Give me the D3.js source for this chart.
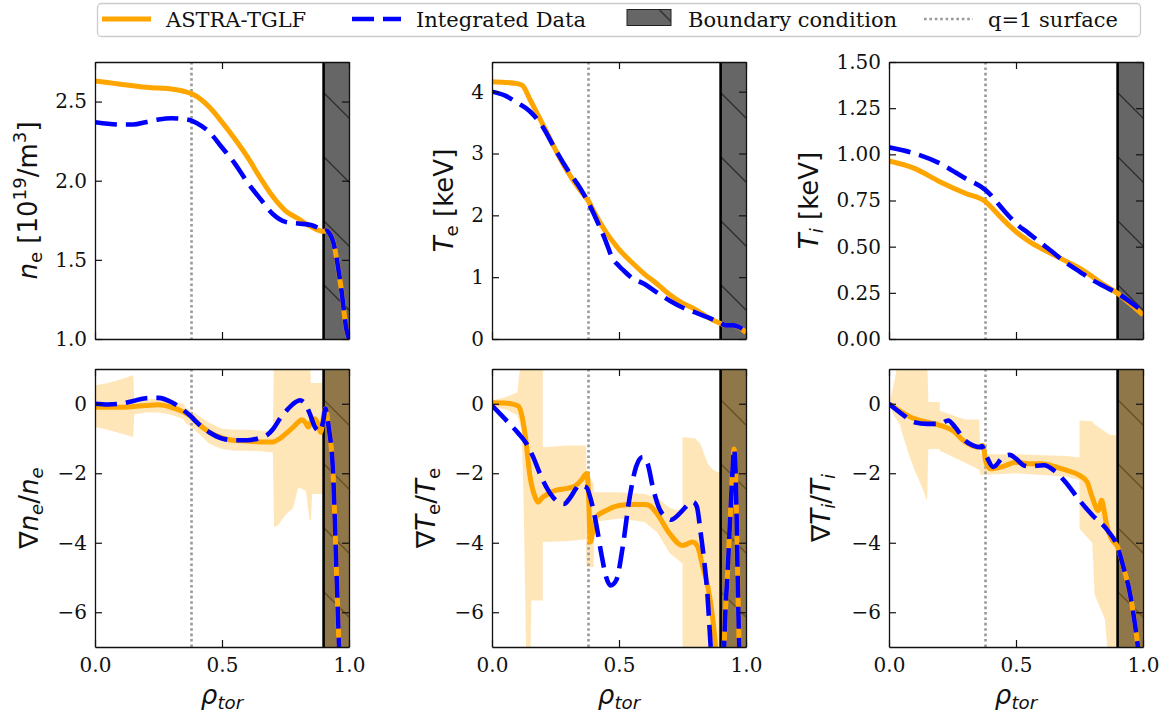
<!DOCTYPE html>
<html>
<head>
<meta charset="utf-8">
<script src="https://cdn.jsdelivr.net/npm/d3@7"></script>
<style>
  body { margin: 0; background: #fff; }
  svg { display: block; }
</style>
</head>
<body>
<script>
// ---- data ----
const rhoQ1 = 0.38;   // q=1 surface
const rhoBC = 0.9;    // boundary condition starts here

// n_e [1e19/m^3]
const neAstraX = [0, 0.05, 0.1, 0.15, 0.2, 0.25, 0.3, 0.35, 0.38, 0.42, 0.45, 0.5, 0.55, 0.6, 0.65, 0.7, 0.75, 0.8, 0.85, 0.9, 0.91, 0.92, 0.94, 0.95, 0.97, 0.99, 1.0];
const neAstra  = [2.63, 2.62, 2.61, 2.60, 2.59, 2.585, 2.58, 2.565, 2.55, 2.51, 2.465, 2.37, 2.265, 2.15, 2.02, 1.90, 1.81, 1.76, 1.71, 1.68, 1.685, 1.675, 1.6, 1.52, 1.31, 1.06, 1.0];
const neDataX  = [0, 0.05, 0.1, 0.15, 0.2, 0.25, 0.3, 0.35, 0.38, 0.4, 0.45, 0.5, 0.55, 0.6, 0.65, 0.7, 0.75, 0.8, 0.85, 0.88, 0.9, 0.91, 0.92, 0.94, 0.95, 0.97, 0.99, 1.0];
const neData   = [2.37, 2.36, 2.355, 2.355, 2.37, 2.387, 2.395, 2.39, 2.38, 2.364, 2.307, 2.21, 2.11, 1.99, 1.887, 1.79, 1.74, 1.73, 1.72, 1.70, 1.68, 1.685, 1.675, 1.6, 1.52, 1.31, 1.06, 1.0];

// T_e [keV]
const teAstraX = [0, 0.05, 0.1, 0.12, 0.15, 0.2, 0.25, 0.3, 0.35, 0.38, 0.4, 0.45, 0.5, 0.55, 0.6, 0.65, 0.7, 0.75, 0.8, 0.85, 0.9, 0.92, 0.95, 0.97, 1.0];
const teAstra  = [4.16, 4.15, 4.13, 4.10, 3.87, 3.47, 3.06, 2.69, 2.39, 2.23, 2.07, 1.72, 1.45, 1.24, 1.05, 0.89, 0.715, 0.58, 0.48, 0.35, 0.25, 0.22, 0.22, 0.2, 0.1];
const teDataX  = [0, 0.05, 0.1, 0.15, 0.2, 0.25, 0.3, 0.35, 0.38, 0.42, 0.45, 0.47, 0.5, 0.52, 0.55, 0.6, 0.65, 0.7, 0.75, 0.8, 0.85, 0.9, 0.92, 0.95, 0.97, 1.0];
const teData   = [4.0, 3.94, 3.82, 3.68, 3.43, 3.06, 2.72, 2.42, 2.2, 1.85, 1.56, 1.34, 1.18, 1.1, 0.99, 0.89, 0.75, 0.62, 0.51, 0.43, 0.35, 0.26, 0.22, 0.22, 0.2, 0.12];

// T_i [keV]
const tiAstraX = [0, 0.1, 0.2, 0.3, 0.38, 0.4, 0.45, 0.5, 0.55, 0.6, 0.65, 0.7, 0.75, 0.8, 0.85, 0.9, 0.95, 1.0];
const tiAstra  = [0.964, 0.924, 0.852, 0.789, 0.744, 0.717, 0.645, 0.581, 0.53, 0.49, 0.455, 0.419, 0.383, 0.338, 0.29, 0.247, 0.19, 0.13];
const tiDataX  = [0, 0.1, 0.2, 0.3, 0.38, 0.4, 0.45, 0.5, 0.55, 0.6, 0.65, 0.7, 0.75, 0.8, 0.85, 0.9, 0.95, 1.0];
const tiData   = [1.038, 1.005, 0.951, 0.87, 0.807, 0.78, 0.70, 0.626, 0.572, 0.518, 0.464, 0.41, 0.365, 0.32, 0.283, 0.247, 0.20, 0.15];

// grad n_e / n_e
const gneAstraX = [0, 0.1, 0.2, 0.25, 0.3, 0.35, 0.38, 0.4, 0.45, 0.5, 0.55, 0.6, 0.65, 0.7, 0.728, 0.755, 0.781, 0.8, 0.814, 0.827, 0.84, 0.853, 0.866, 0.879, 0.888, 0.907, 0.92, 0.938, 0.945, 0.951, 0.958, 0.965];
const gneAstra  = [-0.1, -0.1, -0.05, -0.03, -0.1, -0.24, -0.38, -0.53, -0.82, -0.98, -1.06, -1.07, -1.1, -1.1, -1.0, -0.84, -0.67, -0.53, -0.46, -0.53, -0.67, -0.48, -0.43, -0.62, -0.82, -0.14, -0.67, -2.1, -3.55, -4.9, -6.4, -8];
const gneDataX  = [0, 0.05, 0.1, 0.15, 0.2, 0.25, 0.3, 0.35, 0.38, 0.4, 0.45, 0.5, 0.55, 0.6, 0.65, 0.676, 0.702, 0.728, 0.755, 0.781, 0.807, 0.827, 0.846, 0.866, 0.886, 0.899, 0.907, 0.92, 0.938, 0.945, 0.951, 0.958, 0.965];
const gneData   = [0, -0.02, 0, 0.08, 0.16, 0.17, 0.05, -0.19, -0.38, -0.53, -0.82, -1.0, -1.05, -1.05, -0.98, -0.91, -0.72, -0.43, -0.19, 0.0, 0.1, 0.0, -0.29, -0.67, -0.79, -0.48, -0.14, -0.67, -2.1, -3.55, -4.9, -6.4, -8];
const gneBandX  = [0, 0.05, 0.1, 0.15, 0.155, 0.2, 0.25, 0.3, 0.35, 0.355, 0.4, 0.45, 0.5, 0.55, 0.6, 0.65, 0.7, 0.705, 0.72, 0.75, 0.78, 0.8, 0.83, 0.845, 0.85, 0.855, 0.88, 0.9, 0.9, 1.0];
const gneBandLo = [-0.67, -0.75, -0.85, -0.96, -0.3, -0.25, -0.25, -0.32, -0.45, -0.55, -0.8, -1.15, -1.3, -1.35, -1.35, -1.37, -1.4, -3.55, -3.5, -3.2, -3.0, -2.4, -2.5, -3.35, -3.35, -2.6, -2.6, -2.6, -8, -8];
const gneBandHi = [0.53, 0.6, 0.7, 0.82, 0.1, 0.12, 0.15, 0.05, 0.0, -0.1, -0.3, -0.55, -0.72, -0.75, -0.75, -0.77, -0.8, 1.5, 1.5, 1.5, 1.5, 1.5, 1.5, 1.5, 0.6, 0.6, 0.6, 0.6, 1.5, 1.5];

// grad T_e / T_e
const gteAstraX = [0, 0.05, 0.1, 0.11, 0.13, 0.15, 0.17, 0.18, 0.2, 0.25, 0.3, 0.33, 0.35, 0.374, 0.38, 0.387, 0.4, 0.41, 0.45, 0.5, 0.55, 0.6, 0.62, 0.65, 0.7, 0.75, 0.79, 0.81, 0.83, 0.85, 0.87, 0.885, 0.9, 0.905, 0.914, 0.93, 0.945, 0.953, 0.96, 0.966, 0.973, 0.985];
const gteAstra  = [0.03, 0.02, -0.05, -0.14, -0.86, -2.11, -2.69, -2.83, -2.69, -2.49, -2.43, -2.35, -2.21, -2.01, -2.6, -3.98, -3.55, -3.26, -3.07, -2.93, -2.9, -2.9, -2.93, -3.17, -3.74, -4.08, -3.98, -4.12, -4.7, -5.27, -6.24, -7.5, -10, -10, -7, -4.5, -2.2, -1.3, -2.2, -4.5, -7, -10];
const gteDataX  = [0, 0.05, 0.1, 0.136, 0.162, 0.188, 0.214, 0.24, 0.267, 0.286, 0.3, 0.33, 0.34, 0.371, 0.39, 0.41, 0.43, 0.45, 0.467, 0.489, 0.515, 0.54, 0.567, 0.593, 0.613, 0.633, 0.659, 0.685, 0.705, 0.724, 0.75, 0.776, 0.792, 0.806, 0.822, 0.835, 0.848, 0.861, 0.88, 0.9, 0.905, 0.914, 0.93, 0.945, 0.953, 0.96, 0.966, 0.973, 0.985];
const gteData   = [-0.05, -0.43, -0.82, -1.15, -1.53, -2.0, -2.4, -2.69, -2.85, -2.88, -2.78, -2.45, -2.35, -2.4, -2.78, -3.45, -4.3, -5.0, -5.23, -5.08, -4.1, -2.78, -1.82, -1.53, -1.73, -2.4, -3.02, -3.26, -3.34, -3.26, -3.07, -2.88, -2.83, -2.95, -3.74, -4.5, -5.47, -7, -9, -10, -10, -7, -4.5, -2.2, -1.3, -2.2, -4.5, -7, -10];
const gteBandX  = [0, 0.05, 0.1, 0.117, 0.125, 0.136, 0.15, 0.155, 0.2, 0.2, 0.3, 0.37, 0.372, 0.4, 0.402, 0.45, 0.5, 0.6, 0.65, 0.7, 0.75, 0.75, 0.8, 0.82, 0.85, 0.87, 0.9, 0.9, 1.0];
const gteBandLo = [-0.1, -0.15, -0.33, -0.8, -3, -8, -8, -5.66, -5.66, -3.98, -3.95, -3.9, -4.7, -4.7, -3.4, -3.35, -3.3, -3.4, -3.7, -4.3, -4.6, -8, -8, -8, -8, -8, -8, -8, -8];
const gteBandHi = [0.1, 0.18, 0.33, 1.5, 1.5, 1.5, 1.5, 1.5, 1.5, -1.25, -1.2, -1.2, -1.9, -2.3, -2.55, -2.55, -2.55, -2.6, -2.7, -3.0, -3.1, -0.96, -1.0, -1.15, -1.73, -1.9, -2.0, 1.5, 1.5];

// grad T_i / T_i
const gtiAstraX = [0, 0.05, 0.1, 0.15, 0.2, 0.25, 0.3, 0.35, 0.37, 0.38, 0.39, 0.4, 0.45, 0.5, 0.55, 0.6, 0.65, 0.7, 0.75, 0.78, 0.8, 0.824, 0.837, 0.845, 0.857, 0.877, 0.9, 0.923, 0.949, 0.968, 0.98, 1.0];
const gtiAstra  = [0, -0.24, -0.43, -0.53, -0.62, -0.77, -1.1, -1.25, -1.2, -1.63, -1.82, -1.87, -1.8, -1.68, -1.73, -1.73, -1.8, -1.92, -2.06, -2.25, -2.69, -3.07, -2.78, -3.0, -3.5, -3.9, -4.12, -4.7, -5.47, -6.33, -7, -8.5];
const gtiDataX  = [0, 0.05, 0.1, 0.15, 0.2, 0.233, 0.26, 0.3, 0.33, 0.36, 0.365, 0.385, 0.41, 0.45, 0.475, 0.5, 0.53, 0.55, 0.61, 0.65, 0.7, 0.75, 0.8, 0.86, 0.9, 0.923, 0.949, 0.968, 0.98, 1.0];
const gtiData   = [0, -0.29, -0.53, -0.58, -0.58, -0.48, -0.67, -1.06, -1.2, -1.25, -1.22, -1.53, -1.82, -1.53, -1.47, -1.58, -1.77, -1.8, -1.77, -1.92, -2.3, -2.78, -3.2, -3.64, -4.12, -4.7, -5.47, -6.33, -7, -8.5];
const gtiBandX  = [0, 0.02, 0.043, 0.05, 0.08, 0.1, 0.13, 0.15, 0.155, 0.2, 0.2, 0.3, 0.355, 0.36, 0.5, 0.7, 0.75, 0.75, 0.8, 0.81, 0.85, 0.87, 0.9, 0.9, 1.0];
const gtiBandLo = [0, -0.35, -0.6, -0.8, -1.5, -1.9, -2.4, -2.8, -1.3, -1.3, -1.35, -1.7, -1.9, -2.05, -2.0, -2.1, -2.2, -3.6, -4.0, -5.5, -6.2, -8, -8, -8, -8];
const gtiBandHi = [0, 0.6, 1.5, 1.5, 1.5, 1.5, 1.5, 1.5, 0.05, 0.05, -0.2, -0.45, -0.45, -1.45, -1.45, -1.5, -1.55, -0.48, -0.5, -0.6, -0.8, -0.9, -0.9, 1.5, 1.5];

const xTicks = [0, 0.5, 1.0];

// ---- layout ----
const W = 1169, H = 718;
const colLeft = [95, 492, 889], colW = 254;
const rowTop = [62, 369], rowH = [277, 278];
const orange = "#ffa500", blue = "#0000ff";
const labelSize = 26;

const panels = [
  { col: 0, row: 0, ylim: [1, 2.75], ticks: [1, 1.5, 2, 2.5], fmt: ".1f", labelOff: 58,
    label: [{t: "n", it: 1}, {t: "e", sub: 1}, {t: " [10"}, {t: "19", sup: 1}, {t: "/m"}, {t: "3", sup: 1}, {t: "]"}],
    astra: [neAstraX, neAstra], data: [neDataX, neData] },
  { col: 1, row: 0, ylim: [0, 4.48], ticks: [0, 1, 2, 3, 4], fmt: "d", labelOff: 39,
    label: [{t: "T", it: 1}, {t: "e", sub: 1}, {t: " [keV]"}],
    astra: [teAstraX, teAstra], data: [teDataX, teData] },
  { col: 2, row: 0, ylim: [0, 1.5], ticks: [0, 0.25, 0.5, 0.75, 1, 1.25, 1.5], fmt: ".2f", labelOff: 71,
    label: [{t: "T", it: 1}, {t: "i", sub: 1, it: 1}, {t: " [keV]"}],
    astra: [tiAstraX, tiAstra], data: [tiDataX, tiData] },
  { col: 0, row: 1, ylim: [-7, 1], ticks: [0, -2, -4, -6], fmt: "d", labelOff: 57,
    label: [{t: "∇"}, {t: "n", it: 1}, {t: "e", sub: 1, it: 1}, {t: "/"}, {t: "n", it: 1}, {t: "e", sub: 1, it: 1}],
    astra: [gneAstraX, gneAstra], data: [gneDataX, gneData], band: [gneBandX, gneBandLo, gneBandHi] },
  { col: 1, row: 1, ylim: [-7, 1], ticks: [0, -2, -4, -6], fmt: "d", labelOff: 57,
    label: [{t: "∇"}, {t: "T", it: 1}, {t: "e", sub: 1}, {t: "/"}, {t: "T", it: 1}, {t: "e", sub: 1}],
    astra: [gteAstraX, gteAstra], data: [gteDataX, gteData], band: [gteBandX, gteBandLo, gteBandHi] },
  { col: 2, row: 1, ylim: [-7, 1], ticks: [0, -2, -4, -6], fmt: "d", labelOff: 59,
    label: [{t: "∇"}, {t: "T", it: 1}, {t: "i", sub: 1, it: 1}, {t: "/"}, {t: "T", it: 1}, {t: "i", sub: 1, it: 1}],
    astra: [gtiAstraX, gtiAstra], data: [gtiDataX, gtiData], band: [gtiBandX, gtiBandLo, gtiBandHi] }
];

const svg = d3.select("body").append("svg").attr("width", W).attr("height", H);
const defs = svg.append("defs");

// hatch for the boundary region ('\\' in matplotlib)
const hp = 64;
const hatch = defs.append("pattern").attr("id", "hatch")
  .attr("patternUnits", "userSpaceOnUse").attr("width", hp).attr("height", hp)
  .attr("y", 58);
hatch.append("rect").attr("width", hp).attr("height", hp).attr("fill", "#666666");
hatch.append("path").attr("d", `M0,0L${hp},${hp}M${-hp / 2},${hp / 2}L${hp / 2},${hp * 1.5}M${hp / 2},${-hp / 2}L${hp * 1.5},${hp / 2}`)
  .attr("stroke", "#2e2e2e").attr("stroke-width", 1.4);

// rich text with italic / sub / superscript
function rich(text, parts, fs) {
  let shift = 0;
  parts.forEach(p => {
    const target = p.sub ? 0.2 * fs : p.sup ? -0.42 * fs : 0;
    const ts = text.append("tspan").text(p.t).attr("dy", target - shift);
    shift = target;
    if (p.it) ts.attr("font-style", "italic");
    if (p.sub || p.sup) ts.attr("font-size", fs * 0.7);
  });
}

function styleAxis(g, showText) {
  g.attr("font-family", "DejaVu Serif").attr("font-size", 20);
  g.select(".domain").attr("stroke", "#111").attr("stroke-width", 1.3);
  g.selectAll(".tick line").attr("stroke", "#111").attr("stroke-width", 1.2);
  g.selectAll(".tick text").attr("fill", "#111");
  if (!showText) g.selectAll(".tick text").remove();
}

panels.forEach((p, i) => {
  const w = colW, h = rowH[p.row];
  const g = svg.append("g").attr("transform", `translate(${colLeft[p.col]},${rowTop[p.row]})`);
  const x = d3.scaleLinear([0, 1], [0, w]);
  const y = d3.scaleLinear(p.ylim, [h, 0]);

  defs.append("clipPath").attr("id", "clip" + i)
    .append("rect").attr("width", w).attr("height", h);
  const plot = g.append("g").attr("clip-path", `url(#clip${i})`);

  // boundary condition region
  plot.append("rect")
    .attr("x", x(rhoBC)).attr("y", 0)
    .attr("width", x(1) - x(rhoBC)).attr("height", h)
    .attr("fill", "url(#hatch)");

  // uncertainty band
  if (p.band) {
    const pts = d3.zip(p.band[0], p.band[1], p.band[2]);
    plot.append("path")
      .attr("d", d3.area().x(d => x(d[0])).y0(d => y(d[1])).y1(d => y(d[2]))(pts))
      .attr("fill", orange).attr("fill-opacity", 0.28);
  }

  // q=1 surface
  plot.append("line")
    .attr("x1", x(rhoQ1)).attr("x2", x(rhoQ1)).attr("y1", 0).attr("y2", h)
    .attr("stroke", "#999").attr("stroke-width", 2.6).attr("stroke-dasharray", "2.6,2.8");

  // boundary line
  plot.append("line")
    .attr("x1", x(rhoBC)).attr("x2", x(rhoBC)).attr("y1", 0).attr("y2", h)
    .attr("stroke", "#000").attr("stroke-width", 2.6);

  const line = d3.line().x(d => x(d[0])).y(d => y(d[1])).curve(d3.curveMonotoneX);
  plot.append("path").attr("d", line(d3.zip(p.astra[0], p.astra[1])))
    .attr("fill", "none").attr("stroke", orange).attr("stroke-width", 5);
  plot.append("path").attr("d", line(d3.zip(p.data[0], p.data[1])))
    .attr("fill", "none").attr("stroke", blue).attr("stroke-width", 4.6)
    .attr("stroke-dasharray", "22,9");

  // axes, ticks inward on all four sides
  const bottom = g.append("g").attr("transform", `translate(0,${h})`)
    .call(d3.axisBottom(x).tickValues(xTicks).tickFormat(d3.format(".1f"))
      .tickSizeInner(-7).tickSizeOuter(0).tickPadding(11));
  styleAxis(bottom, p.row === 1);
  const top = g.append("g")
    .call(d3.axisTop(x).tickValues(xTicks).tickSizeInner(-7).tickSizeOuter(0));
  styleAxis(top, false);
  const left = g.append("g")
    .call(d3.axisLeft(y).tickValues(p.ticks).tickFormat(d3.format(p.fmt))
      .tickSizeInner(-7).tickSizeOuter(0).tickPadding(8));
  styleAxis(left, true);
  const right = g.append("g").attr("transform", `translate(${w},0)`)
    .call(d3.axisRight(y).tickValues(p.ticks).tickSizeInner(-7).tickSizeOuter(0));
  styleAxis(right, false);

  // y label
  const yl = g.append("text")
    .attr("transform", `translate(${-p.labelOff},${h / 2}) rotate(-90)`)
    .attr("text-anchor", "middle")
    .attr("font-family", "DejaVu Sans").attr("font-size", labelSize).attr("fill", "#111");
  rich(yl, p.label, labelSize);

  // x label
  if (p.row === 1) {
    const xl = g.append("text")
      .attr("x", w / 2).attr("y", h + 57)
      .attr("text-anchor", "middle")
      .attr("font-family", "DejaVu Sans").attr("font-size", labelSize).attr("fill", "#111");
    rich(xl, [{t: "ρ", it: 1}, {t: "tor", sub: 1, it: 1}], labelSize);
  }
});

// ---- legend ----
const lg = svg.append("g");
lg.append("rect").attr("x", 97.5).attr("y", 3.5).attr("width", 1043).attr("height", 33).attr("rx", 4)
  .attr("fill", "#fff").attr("stroke", "#cccccc").attr("stroke-width", 1.3);
const legendItems = [
  { name: "ASTRA-TGLF", kind: "line", color: orange, dash: null, width: 5 },
  { name: "Integrated Data", kind: "line", color: blue, dash: "22,9", width: 4.6 },
  { name: "Boundary condition", kind: "patch" },
  { name: "q=1 surface", kind: "line", color: "#999", dash: "2.6,2.8", width: 2.6 }
];
const legendX = [102, 352, 627, 924];
const ly = 19;
legendItems.forEach((it, k) => {
  const x0 = legendX[k];
  if (it.kind === "line") {
    lg.append("line").attr("x1", x0).attr("x2", x0 + 49).attr("y1", ly).attr("y2", ly)
      .attr("stroke", it.color).attr("stroke-width", it.width)
      .attr("stroke-dasharray", it.dash);
  } else {
    lg.append("rect").attr("x", x0).attr("y", 9.5).attr("width", 44).attr("height", 16)
      .attr("fill", "url(#hatchLeg)").attr("stroke", "#222").attr("stroke-width", 1);
  }
  lg.append("text").attr("x", x0 + (it.kind === "patch" ? 61 : 64)).attr("y", 26.5)
    .attr("font-family", "DejaVu Serif").attr("font-size", 21).attr("fill", "#111")
    .text(it.name);
});
const hl = defs.append("pattern").attr("id", "hatchLeg")
  .attr("patternUnits", "userSpaceOnUse").attr("width", hp).attr("height", hp)
  .attr("x", 627 + 44 - 12).attr("y", 9.5);
hl.append("rect").attr("width", hp).attr("height", hp).attr("fill", "#666666");
hl.append("path").attr("d", `M0,0L${hp},${hp}`).attr("stroke", "#2e2e2e").attr("stroke-width", 1.4);
</script>
</body>
</html>
